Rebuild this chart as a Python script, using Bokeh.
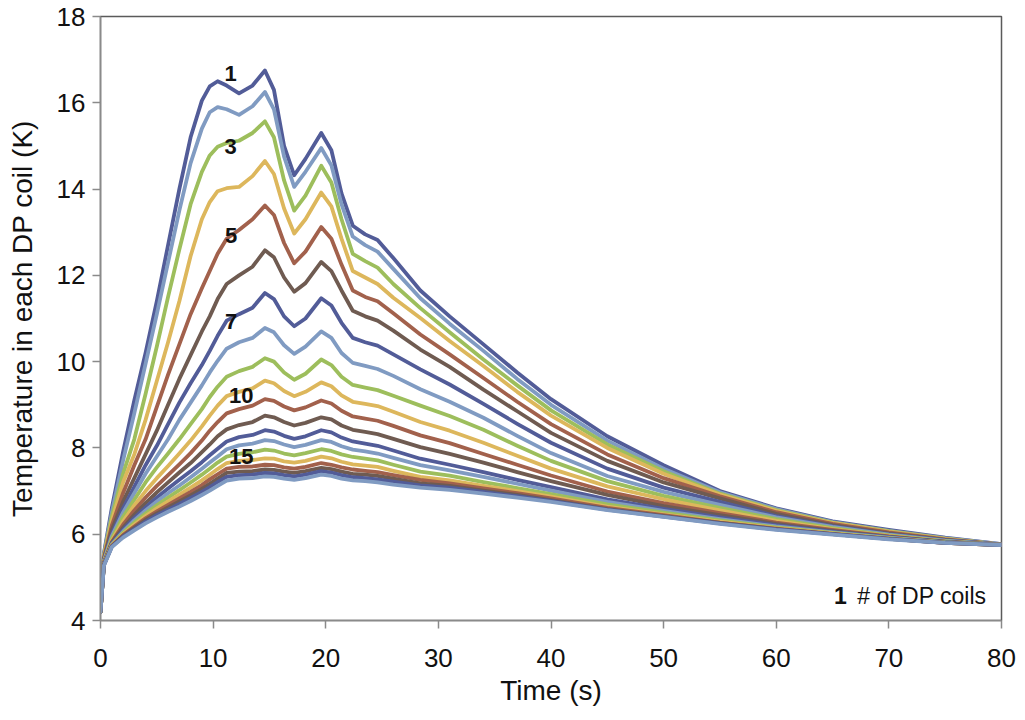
from bokeh.plotting import figure
from bokeh.models import Range1d, FixedTicker
from bokeh.core.properties import value
from bokeh.embed import file_html
from bokeh.resources import INLINE

# ---- data ----
time_s = [0, 0.3, 1, 2, 3, 4, 5, 6, 7, 8,
          9, 9.7, 10.4, 11.2, 12.3, 13.5, 14.6, 15.4, 16.3, 17.2,
          18.2, 19.6, 20.5, 21.4, 22.4, 23.5, 24.6, 26, 28.4, 31,
          34, 37, 40, 45, 50, 55, 60, 65, 70, 75,
          80]

coil_01 = [4.2, 5.55, 6.6, 7.9, 9.1, 10.2, 11.4, 12.7, 14.0, 15.2,
           16.05, 16.38, 16.5, 16.4, 16.22, 16.4, 16.75, 16.3, 15.0, 14.32,
           14.7, 15.3, 14.9, 13.9, 13.15, 12.95, 12.82, 12.4, 11.65, 11.05,
           10.4, 9.75, 9.13, 8.27, 7.6, 7.0, 6.6, 6.3, 6.1, 5.92,
           5.77]
coil_02 = [4.2, 5.52, 6.5, 7.7, 8.8, 9.95, 11.1, 12.3, 13.5, 14.6,
           15.4, 15.78, 15.9, 15.85, 15.72, 15.92, 16.25, 15.85, 14.75, 14.05,
           14.4, 14.95, 14.55, 13.65, 12.9, 12.7, 12.55, 12.15, 11.47, 10.88,
           10.25, 9.6, 9.0, 8.17, 7.52, 6.97, 6.58, 6.28, 6.08, 5.91,
           5.77]
coil_03 = [4.2, 5.5, 6.4, 7.4, 8.2, 9.25, 10.35, 11.5, 12.6, 13.65,
           14.4, 14.78, 14.98, 15.07, 15.12, 15.3, 15.57, 15.2, 14.2, 13.5,
           13.85, 14.54, 14.15, 13.3, 12.5, 12.33, 12.18, 11.8, 11.24, 10.68,
           10.05, 9.45, 8.87, 8.08, 7.46, 6.94, 6.56, 6.27, 6.07, 5.9,
           5.76]
coil_04 = [4.2, 5.48, 6.3, 7.2, 7.85, 8.65, 9.55, 10.45, 11.4, 12.45,
           13.3, 13.7, 13.95, 14.02, 14.05, 14.3, 14.65, 14.35, 13.55, 12.97,
           13.3, 13.92, 13.6, 12.85, 12.1, 11.95, 11.8, 11.48, 11.01, 10.48,
           9.9, 9.3, 8.75, 8.0, 7.4, 6.92, 6.54, 6.26, 6.06, 5.89,
           5.76]
coil_05 = [4.2, 5.45, 6.2, 6.95, 7.6, 8.2, 8.95, 9.7, 10.4, 11.1,
           11.7, 12.1, 12.5, 12.85, 13.05, 13.3, 13.62, 13.4, 12.75, 12.28,
           12.55, 13.12, 12.85, 12.25, 11.65, 11.5, 11.4, 11.12, 10.63, 10.17,
           9.62, 9.07, 8.55, 7.85, 7.3, 6.88, 6.51, 6.24, 6.04, 5.88,
           5.76]
coil_06 = [4.2, 5.42, 6.1, 6.75, 7.3, 7.85, 8.4, 9.0, 9.6, 10.15,
           10.7, 11.05, 11.45, 11.8, 12.0, 12.2, 12.58, 12.42, 11.95, 11.62,
           11.82, 12.31, 12.1, 11.65, 11.18, 11.05, 10.95, 10.72, 10.28, 9.88,
           9.35, 8.85, 8.35, 7.7, 7.2, 6.83, 6.47, 6.21, 6.02, 5.87,
           5.76]
coil_07 = [4.2, 5.4, 6.0, 6.6, 7.1, 7.6, 8.05, 8.55, 9.05, 9.5,
           9.92, 10.25, 10.6, 10.95, 11.1, 11.25, 11.59, 11.45, 11.05, 10.82,
           11.0, 11.47, 11.3, 10.9, 10.55, 10.45, 10.37, 10.17, 9.82, 9.47,
           9.02, 8.56, 8.12, 7.52, 7.08, 6.75, 6.42, 6.19, 6.0, 5.86,
           5.76]
coil_08 = [4.2, 5.38, 5.95, 6.5, 6.95, 7.4, 7.8, 8.2, 8.65, 9.05,
           9.45, 9.75, 10.02, 10.3, 10.45, 10.55, 10.78, 10.68, 10.38, 10.18,
           10.35, 10.7, 10.55, 10.2, 9.97, 9.9, 9.83, 9.67, 9.36, 9.07,
           8.7, 8.28, 7.88, 7.35, 6.98, 6.68, 6.39, 6.17, 5.99, 5.85,
           5.76]
coil_09 = [4.2, 5.36, 5.9, 6.4, 6.8, 7.2, 7.55, 7.87, 8.2, 8.55,
           8.9, 9.18, 9.42, 9.65, 9.78, 9.88, 10.08, 10.0, 9.75, 9.58,
           9.72, 10.05, 9.92, 9.65, 9.46, 9.4, 9.34, 9.21, 8.98, 8.74,
           8.42, 8.05, 7.7, 7.23, 6.89, 6.61, 6.35, 6.14, 5.97, 5.84,
           5.75]
coil_10 = [4.2, 5.35, 5.85, 6.3, 6.67, 7.0, 7.3, 7.58, 7.87, 8.17,
           8.5, 8.75, 8.98, 9.2, 9.3, 9.38, 9.56, 9.5, 9.32, 9.2,
           9.3, 9.52, 9.43, 9.22, 9.07, 9.02, 8.97, 8.84, 8.6, 8.4,
           8.12, 7.82, 7.52, 7.11, 6.81, 6.55, 6.31, 6.12, 5.96, 5.83,
           5.75]
coil_11 = [4.2, 5.34, 5.82, 6.22, 6.55, 6.85, 7.12, 7.37, 7.62, 7.88,
           8.17, 8.4, 8.6, 8.8, 8.9, 8.98, 9.13, 9.09, 8.96, 8.87,
           8.94, 9.1, 9.03, 8.86, 8.73, 8.68, 8.63, 8.51, 8.29, 8.11,
           7.86, 7.61, 7.36, 6.99, 6.72, 6.49, 6.27, 6.1, 5.95, 5.83,
           5.75]
coil_12 = [4.2, 5.33, 5.8, 6.15, 6.45, 6.72, 6.97, 7.2, 7.43, 7.65,
           7.9, 8.08, 8.27, 8.43, 8.53, 8.6, 8.75, 8.71, 8.6, 8.52,
           8.58, 8.71, 8.66, 8.52, 8.42, 8.37, 8.32, 8.21, 8.02, 7.86,
           7.66, 7.44, 7.23, 6.91, 6.65, 6.44, 6.24, 6.08, 5.94, 5.82,
           5.75]
coil_13 = [4.2, 5.32, 5.78, 6.1, 6.38, 6.62, 6.85, 7.06, 7.26, 7.46,
           7.67, 7.83, 7.98, 8.15, 8.25, 8.3, 8.41, 8.38, 8.28, 8.21,
           8.27, 8.41, 8.36, 8.24, 8.15, 8.1, 8.05, 7.94, 7.75, 7.61,
           7.44, 7.26, 7.09, 6.81, 6.59, 6.39, 6.21, 6.06, 5.93, 5.82,
           5.75]
coil_14 = [4.2, 5.31, 5.76, 6.06, 6.32, 6.55, 6.76, 6.95, 7.13, 7.32,
           7.52, 7.66, 7.8, 7.97, 8.06, 8.1, 8.18, 8.16, 8.08, 8.02,
           8.07, 8.18, 8.14, 8.04, 7.96, 7.92, 7.87, 7.77, 7.6, 7.48,
           7.33, 7.17, 7.01, 6.75, 6.54, 6.35, 6.18, 6.04, 5.92, 5.81,
           5.75]
coil_15 = [4.2, 5.3, 5.75, 6.03, 6.27, 6.48, 6.67, 6.85, 7.02, 7.2,
           7.38, 7.52, 7.66, 7.8, 7.86, 7.9, 7.96, 7.94, 7.87, 7.83,
           7.88, 7.97, 7.93, 7.85, 7.79, 7.75, 7.71, 7.61, 7.45, 7.36,
           7.21, 7.07, 6.93, 6.69, 6.5, 6.32, 6.16, 6.03, 5.91, 5.81,
           5.75]
coil_16 = [4.2, 5.3, 5.74, 6.0, 6.22, 6.42, 6.6, 6.76, 6.92, 7.08,
           7.25, 7.38, 7.51, 7.65, 7.7, 7.72, 7.76, 7.75, 7.69, 7.66,
           7.7, 7.8, 7.76, 7.68, 7.62, 7.59, 7.56, 7.47, 7.33, 7.25,
           7.12, 7.0, 6.87, 6.64, 6.46, 6.29, 6.14, 6.02, 5.9, 5.8,
           5.75]
coil_17 = [4.2, 5.29, 5.73, 5.98, 6.18, 6.37, 6.53, 6.68, 6.83, 6.98,
           7.14, 7.27, 7.39, 7.52, 7.56, 7.57, 7.61, 7.6, 7.55, 7.52,
           7.56, 7.65, 7.61, 7.55, 7.5, 7.47, 7.44, 7.37, 7.26, 7.18,
           7.06, 6.95, 6.83, 6.61, 6.44, 6.27, 6.13, 6.01, 5.9, 5.8,
           5.75]
coil_18 = [4.2, 5.29, 5.72, 5.96, 6.15, 6.33, 6.48, 6.62, 6.76, 6.9,
           7.05, 7.17, 7.29, 7.42, 7.45, 7.46, 7.5, 7.49, 7.45, 7.42,
           7.46, 7.54, 7.51, 7.45, 7.4, 7.38, 7.35, 7.29, 7.18, 7.12,
           7.01, 6.91, 6.79, 6.58, 6.42, 6.26, 6.12, 6.0, 5.89, 5.8,
           5.75]
coil_19 = [4.2, 5.28, 5.71, 5.94, 6.12, 6.29, 6.44, 6.57, 6.7, 6.84,
           6.98, 7.09, 7.21, 7.33, 7.37, 7.38, 7.42, 7.41, 7.37, 7.34,
           7.38, 7.46, 7.43, 7.37, 7.32, 7.3, 7.27, 7.22, 7.13, 7.08,
           6.98, 6.88, 6.77, 6.57, 6.41, 6.25, 6.11, 6.0, 5.89, 5.8,
           5.75]
coil_20 = [4.2, 5.27, 5.7, 5.92, 6.09, 6.25, 6.39, 6.52, 6.64, 6.77,
           6.91, 7.01, 7.12, 7.24, 7.29, 7.3, 7.34, 7.33, 7.29, 7.26,
           7.3, 7.38, 7.35, 7.29, 7.25, 7.23, 7.2, 7.15, 7.08, 7.03,
           6.94, 6.85, 6.75, 6.56, 6.4, 6.24, 6.1, 5.99, 5.88, 5.8,
           5.75]

coils = [coil_01, coil_02, coil_03, coil_04, coil_05, coil_06, coil_07, coil_08, coil_09, coil_10,
         coil_11, coil_12, coil_13, coil_14, coil_15, coil_16, coil_17, coil_18, coil_19, coil_20]

palette = ["#525C98", "#809BC2", "#9DBE5C", "#DDB75C", "#A2614C", "#6F5B51"]

label_text = ["1", "3", "5", "7", "10", "15"]
label_x = [11.55, 11.55, 11.6, 11.6, 12.5, 12.5]
label_y = [16.69, 14.99, 12.92, 10.94, 9.22, 7.79]

x_ticks = [0, 10, 20, 30, 40, 50, 60, 70, 80]
y_ticks = [4, 6, 8, 10, 12, 14, 16, 18]

FONT = "Liberation Sans"

p = figure(width=1020, height=716, output_backend="svg", toolbar_location=None, title=None,
           x_range=Range1d(0, 80), y_range=Range1d(4, 18),
           min_border_left=100, min_border_top=16, min_border_right=19, min_border_bottom=96)
p.background_fill_color = "white"
p.border_fill_color = "white"
p.grid.visible = False
p.outline_line_color = "#5a5a5a"
p.outline_line_width = 1.5

for i, ys in enumerate(coils):
    p.line(time_s, ys, line_color=palette[i % len(palette)], line_width=3.8,
           line_join="round", line_cap="round")

p.text(x=label_x, y=label_y, text=label_text, text_font=value(FONT), text_font_size="22px",
       text_font_style="bold", text_align="center", text_baseline="middle", text_color="#111111")

p.text(x=[65.7], y=[4.57], text=["1"], text_font=value(FONT), text_font_size="23px",
       text_font_style="bold", text_align="center", text_baseline="middle", text_color="#111111")
p.text(x=[67.2], y=[4.57], text=["# of DP coils"], text_font=value(FONT), text_font_size="23px",
       text_align="left", text_baseline="middle", text_color="#111111")

for ax in (p.xaxis[0], p.yaxis[0]):
    ax.axis_line_color = "#8a8a8a"
    ax.axis_line_width = 1.5
    ax.major_tick_line_color = "#8a8a8a"
    ax.major_tick_line_width = 1.5
    ax.major_tick_in = 0
    ax.major_tick_out = 8
    ax.minor_tick_line_color = None
    ax.major_label_text_font = FONT
    ax.major_label_text_font_size = "26px"
    ax.major_label_text_color = "#111111"
    ax.axis_label_text_font = FONT
    ax.axis_label_text_font_size = "28px"
    ax.axis_label_text_font_style = "normal"
    ax.axis_label_text_color = "#111111"

p.xaxis.ticker = FixedTicker(ticks=x_ticks)
p.yaxis.ticker = FixedTicker(ticks=y_ticks)
p.xaxis.axis_label = "Time (s)"
p.yaxis.axis_label = "Temperature in each DP coil (K)"
p.xaxis.major_label_standoff = 20
p.xaxis.axis_label_standoff = 5
p.yaxis.major_label_standoff = 7
p.yaxis.axis_label_standoff = 16

open("out.html", "w").write(file_html(p, INLINE))
